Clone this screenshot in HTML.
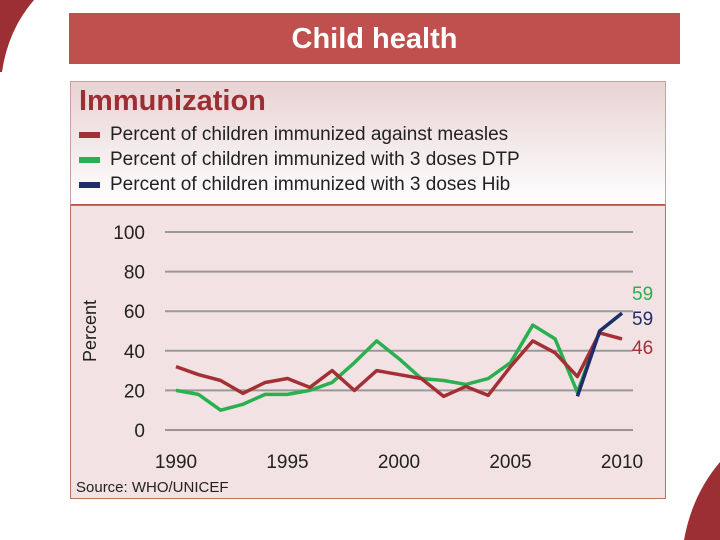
<!DOCTYPE html>
<html><head><meta charset="utf-8"><style>
body{margin:0;width:720px;height:540px;background:#fff;position:relative;overflow:hidden;font-family:"Liberation Sans",sans-serif}
.abs{position:absolute}
</style></head><body>
<svg class="abs" style="left:0;top:0" width="720" height="540">
<path d="M0,0 L34,0 Q8,30 2,72 L0,72 Z" fill="#9b2f33"/>
<path d="M720,462 Q692,495 684,540 L720,540 Z" fill="#9b2f33"/>
</svg>
<div class="abs" style="left:69px;top:13px;width:611px;height:51px;background:#c0504d;color:#fff;font-size:29px;font-weight:bold;text-align:center;line-height:53px">Child health</div>
<div class="abs" style="left:70px;top:81px;width:594px;height:122px;background:linear-gradient(#e8d2d4,#fff);border:1px solid #c9a0a0;border-bottom:2px solid #b55a4a">
<div style="position:absolute;left:8px;top:3px;font-size:29px;color:#9b2f33;font-weight:bold">Immunization</div>
<div style="position:absolute;left:8px;top:42px;font-size:19px;color:#222"><span style="display:inline-block;width:21px;height:6px;background:#a33034;margin-right:10px;vertical-align:middle"></span>Percent of children immunized against measles</div>
<div style="position:absolute;left:8px;top:67px;font-size:19px;color:#222"><span style="display:inline-block;width:21px;height:6px;background:#2ab050;margin-right:10px;vertical-align:middle"></span>Percent of children immunized with 3 doses DTP</div>
<div style="position:absolute;left:8px;top:92px;font-size:19px;color:#222"><span style="display:inline-block;width:21px;height:6px;background:#1f2d6b;margin-right:10px;vertical-align:middle"></span>Percent of children immunized with 3 doses Hib</div>
</div>
<div class="abs" style="left:70px;top:205px;width:594px;height:292px;background:#f2e2e3;border:1px solid #c07060"></div>
<svg id="chart" class="abs" style="left:0;top:0" width="720" height="540"></svg>
<script>
const years=[1990,1991,1992,1993,1994,1995,1996,1997,1998,1999,2000,2001,2002,2003,2004,2005,2006,2007,2008,2009,2010];
const measles=[32,28,25,18.5,24,26,21.5,30,20,30,28,26,17,22,17.5,32,45,39,27,49,46];
const dtp=[20,18,10,13,18,18,20,24,34,45,36,26,25,23,26,34,53,46,19,50,59];
const hibYears=[2008,2009,2010];
const hib=[17,50,59];
const yTicks=[0,20,40,60,80,100];
const xTicks=[1990,1995,2000,2005,2010];
const endLabels=["59","59","46"];
const ns="http://www.w3.org/2000/svg",svg=document.getElementById('chart');
const X=y=>176+(y-1990)*22.3, Y=v=>430-v*1.98;
function mk(t,a,txt){const e=document.createElementNS(ns,t);for(const k in a)e.setAttribute(k,a[k]);if(txt!=null)e.textContent=txt;svg.appendChild(e);return e;}
yTicks.forEach(v=>{
 const l=mk('line',{x1:165,x2:633,y1:Y(v),y2:Y(v),stroke:v===0?'#444':'#999','stroke-width':v===0?1:2});
 
 
 const t=mk('text',{x:145,y:Y(v)+7,'text-anchor':'end','font-size':19,fill:'#222'},v);
 
 
});
xTicks.forEach(v=>{
 const t=mk('text',{x:X(v),y:468,'text-anchor':'middle','font-size':19,fill:'#222'},v);
 
 
});
const yt=mk('text',{x:96,y:331,'text-anchor':'middle','font-size':18,fill:'#222',transform:'rotate(-90 96 331)'},'Percent');


const src=mk('text',{x:76,y:492,'font-size':15,fill:'#222'},'Source: WHO/UNICEF');


function line(xs,vs,c,name){
 const p=mk('polyline',{points:vs.map((v,i)=>X(xs[i])+','+Y(v)).join(' '),fill:'none',stroke:c,'stroke-width':3.5,'stroke-linejoin':'round'});
 
 
}
line(years,dtp,'#2ab050','dtp-line');
line(years,measles,'#a33034','measles-line');
line(hibYears,hib,'#1f2d6b','hib-line');
const lc=['#2ab050','#1f2d6b','#a33034'],ly=[300,325,354];
endLabels.forEach((s,i)=>{
 const t=mk('text',{x:632,y:ly[i],'font-size':19,fill:lc[i]},s);
 
 
});
</script>
</body></html>
